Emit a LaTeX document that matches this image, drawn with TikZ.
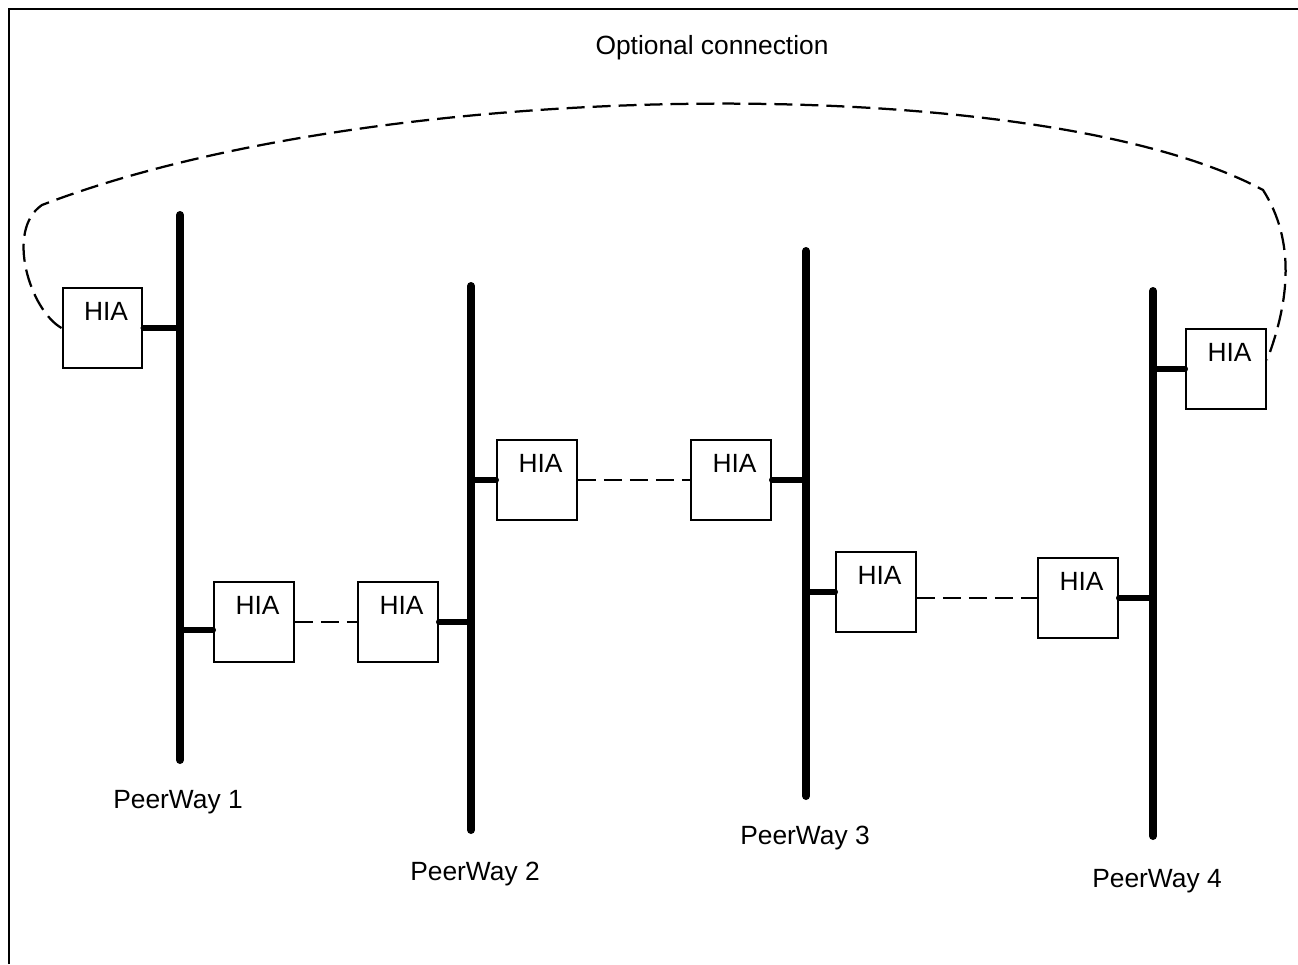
\documentclass[tikz,border=0pt]{standalone}
\usepackage{fontspec}
\setmainfont{Liberation Sans}
\usepackage{tikz}
\usetikzlibrary{calc}

\begin{document}
\begin{tikzpicture}[x=0.02cm, y=-0.02cm,
  hia/.style={rectangle, draw, line width=0.04cm, minimum width=1.6cm, inner xsep=0pt,
    inner ysep=0.27cm, text height=0.38cm, text depth=0.68cm, font=\fontsize{15}{18}\selectfont,
    execute at begin node=\hskip0.14cm},
  bus/.style={line width=0.16cm, line cap=round},
  stub/.style={line width=0.12cm, line cap=round},
  link/.style={line width=0.045cm, dash pattern=on 0.36cm off 0.16cm},
  lbl/.style={font=\fontsize{15}{18}\selectfont}]
\useasboundingbox (0,0) rectangle (1298,964);

% Frame
\draw[line width=0.04cm] (9,964) -- (9,9) -- (1298,9);

% PeerWay buses
\coordinate (pw1t) at (180,215); \coordinate (pw1b) at (180,760);
\coordinate (pw2t) at (471,286); \coordinate (pw2b) at (471,830);
\coordinate (pw3t) at (806,251); \coordinate (pw3b) at (806,796);
\coordinate (pw4t) at (1153,291); \coordinate (pw4b) at (1153,836);
\draw[bus] (pw1t) -- (pw1b);
\draw[bus] (pw2t) -- (pw2b);
\draw[bus] (pw3t) -- (pw3b);
\draw[bus] (pw4t) -- (pw4b);

% Bus labels
\node[lbl] (pw1lbl) at (178,802) {PeerWay 1};
\node[lbl] (pw2lbl) at (475,874) {PeerWay 2};
\node[lbl] (pw3lbl) at (805,838) {PeerWay 3};
\node[lbl] (pw4lbl) at (1157,881) {PeerWay 4};
\node[lbl] (optlbl) at (712,48) {Optional connection};

% HIA boxes
\node[hia] (a1) at (102.5,328) {HIA};
\node[hia] (b1) at (254,622) {HIA};
\node[hia] (b2) at (398,622) {HIA};
\node[hia] (c1) at (537,480) {HIA};
\node[hia] (c2) at (731,480) {HIA};
\node[hia] (d1) at (876,592) {HIA};
\node[hia] (d2) at (1078,598) {HIA};
\node[hia] (e1) at (1226,369) {HIA};

% Stubs to the buses
\coordinate (b1s) at ([yshift=-0.16cm]b1.west);
\draw[stub] (a1.east) -- (a1.east -| pw1t);
\draw[stub] (b1s) -- (b1s -| pw1t);
\draw[stub] (b2.east) -- (b2.east -| pw2t);
\draw[stub] (c1.west) -- (c1.west -| pw2t);
\draw[stub] (c2.east) -- (c2.east -| pw3t);
\draw[stub] (d1.west) -- (d1.west -| pw3t);
\draw[stub] (d2.east) -- (d2.east -| pw4t);
\draw[stub] (e1.west) -- (e1.west -| pw4t);

% Links between HIAs
\draw[link] (b1.east) -- (b2.west);
\draw[link] (c1.east) -- (c2.west);
\draw[link] (d2.west -| d1.east) -- (d2.west);

% Optional connection
\coordinate (e1c) at ([yshift=0.18cm]e1.east);
\draw[link] (a1.west) .. controls (30,310) and (5,230) .. (42,205)
  .. controls (380,75) and (1040,70) .. (1263,190)
  .. controls (1295,240) and (1290,300) .. (e1c);
\end{tikzpicture}
\end{document}
